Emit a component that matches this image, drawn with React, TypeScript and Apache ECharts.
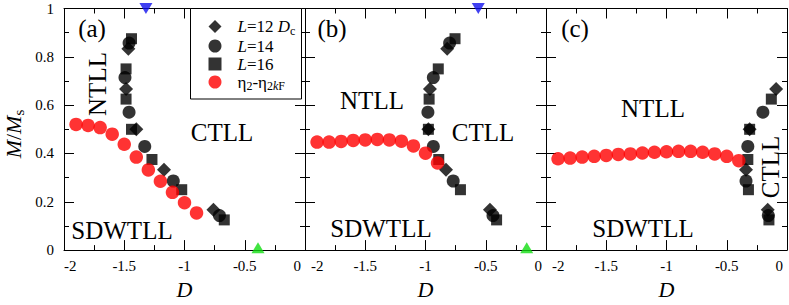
import React, { useEffect, useRef } from 'react';
import * as echarts from 'echarts';

const FONT = '"Liberation Serif", "Times New Roman", serif';

// ---- Panel (a) ----
const aL12 = [[-1.466, 0.833], [-1.485, 0.667], [-1.4, 0.5], [-1.17, 0.333], [-0.76, 0.167]];
const aL14 = [[-1.46, 0.857], [-1.494, 0.714], [-1.46, 0.571], [-1.33, 0.429], [-1.093, 0.286], [-0.71, 0.143]];
const aL16 = [[-1.44, 0.875], [-1.485, 0.75], [-1.485, 0.625], [-1.44, 0.5], [-1.27, 0.375], [-1.023, 0.25], [-0.67, 0.125]];
const aRedD = [-1.9, -1.8, -1.7, -1.6, -1.5, -1.4, -1.3, -1.2, -1.1, -1.0, -0.9];
const aRedM = [0.52, 0.516, 0.507, 0.48, 0.438, 0.385, 0.332, 0.285, 0.239, 0.196, 0.154];
const aBlue = [[-1.32, 1.0]];
const aGreen = [[-0.39, 0.01]];

// ---- Panel (b) ----
const bL12 = [[-0.82, 0.833], [-0.963, 0.667], [-0.976, 0.5], [-0.83, 0.333], [-0.465, 0.167]];
const bL14 = [[-0.8, 0.857], [-0.935, 0.714], [-0.98, 0.571], [-0.935, 0.429], [-0.77, 0.286], [-0.44, 0.143]];
const bL16 = [[-0.755, 0.875], [-0.894, 0.75], [-0.97, 0.625], [-0.976, 0.5], [-0.89, 0.375], [-0.71, 0.25], [-0.41, 0.125]];
const bRedD = [-1.9, -1.8, -1.7, -1.6, -1.5, -1.4, -1.3, -1.2, -1.1, -1.0, -0.9];
const bRedM = [0.447, 0.447, 0.45, 0.454, 0.456, 0.458, 0.456, 0.451, 0.431, 0.401, 0.361];
const bBlue = [[-0.562, 1.0]];
const bGreen = [[-0.16, 0.01]];

// ---- Panel (c) ----
const cL12 = [[-0.09, 0.667], [-0.31, 0.5], [-0.34, 0.333], [-0.16, 0.167]];
const cL14 = [[-0.2, 0.571], [-0.325, 0.429], [-0.34, 0.286], [-0.155, 0.143]];
const cL16 = [[-0.13, 0.625], [-0.31, 0.5], [-0.325, 0.375], [-0.32, 0.25], [-0.15, 0.125]];
const cRedD = [-1.9, -1.8, -1.7, -1.6, -1.5, -1.4, -1.3, -1.2, -1.1, -1.0, -0.9, -0.8, -0.7, -0.6, -0.5, -0.4];
const cRedM = [0.378, 0.381, 0.385, 0.388, 0.392, 0.396, 0.398, 0.402, 0.405, 0.407, 0.409, 0.409, 0.405, 0.398, 0.388, 0.37];

const legendNames = ['L12', 'L14', 'L16', 'eta'];
const panelTags = ['(a)', '(b)', '(c)'];

const zip = (xs: number[], ys: number[]) => xs.map((x, i) => [x, ys[i]]);

const panels = [
  { L12: aL12, L14: aL14, L16: aL16, red: zip(aRedD, aRedM), blue: aBlue, green: aGreen },
  { L12: bL12, L14: bL14, L16: bL16, red: zip(bRedD, bRedM), blue: bBlue, green: bGreen },
  { L12: cL12, L14: cL14, L16: cL16, red: zip(cRedD, cRedM), blue: [], green: [] },
];

const gridLefts = [64, 305, 546];
const GW = 241;
const GT = 8.5;
const GH = 252.5;

const axisLine = { onZero: false, lineStyle: { color: '#000', width: 1 } };
const axisTick = { inside: true, length: 10, lineStyle: { color: '#000', width: 1 } };
const minorTick = { show: true, splitNumber: 2, length: 5, lineStyle: { color: '#000', width: 1 } };

const lab = { fontFamily: FONT, fontSize: 15, color: '#000' };

function buildOption() {
  const grid = gridLefts.map((l) => ({ left: l, top: GT, width: GW, height: GH }));
  const xAxis: any[] = [];
  const yAxis: any[] = [];
  const series: any[] = [];
  gridLefts.forEach((_, gi) => {
    xAxis.push({
      type: 'value', gridIndex: gi, position: 'bottom', min: -2, max: 0, interval: 0.5,
      axisLine, axisTick, minorTick, splitLine: { show: false }, minorSplitLine: { show: false },
      axisLabel: {
        ...lab, margin: 8,
        alignMinLabel: 'left', alignMaxLabel: 'right',
        formatter: (v: number) => {
          const s = String(+v.toFixed(2));
          if (v <= -2 + 1e-9) return gi === 0 ? '{n|' + s + '}' : '{mn|' + s + '}';
          if (v >= -1e-9) return '{mx|' + s + '}';
          return '{n|' + s + '}';
        },
        rich: {
          n: { ...lab },
          mn: { ...lab, padding: [0, 0, 0, 6] },
          mx: { ...lab, padding: [0, 4, 0, 0] },
        },
      },
      name: 'D', nameLocation: 'middle', nameGap: 19,
      nameTextStyle: { color: '#000', fontFamily: FONT, fontSize: 22, fontStyle: 'italic' },
    });
    xAxis.push({
      type: 'value', gridIndex: gi, position: 'top', min: -2, max: 0, interval: 0.5,
      axisLine, axisTick, minorTick, splitLine: { show: false }, axisLabel: { show: false },
    });
    yAxis.push({
      type: 'value', gridIndex: gi, position: 'left', min: 0, max: 1, interval: 0.2,
      axisLine, axisTick, minorTick, splitLine: { show: false },
      axisLabel: {
        show: gi === 0, ...lab, margin: 10,
        formatter: (v: number) => '{n|' + String(+v.toFixed(1)) + '}',
        rich: { n: { ...lab } },
      },
    });
    yAxis.push({
      type: 'value', gridIndex: gi, position: 'right', min: 0, max: 1, interval: 0.2,
      axisLine, axisTick, minorTick, splitLine: { show: false }, axisLabel: { show: false },
    });
    const p = panels[gi];
    const base = { type: 'scatter', xAxisIndex: 2 * gi, yAxisIndex: 2 * gi, clip: false };
    series.push({ ...base, name: 'L12', symbol: 'diamond', symbolSize: 14, itemStyle: { color: '#000' }, data: p.L12 });
    series.push({ ...base, name: 'L14', symbol: 'circle', symbolSize: 13, itemStyle: { color: '#000' }, data: p.L14 });
    series.push({ ...base, name: 'L16', symbol: 'rect', symbolSize: 11, itemStyle: { color: '#000' }, data: p.L16 });
    series.push({ ...base, name: 'eta', symbol: 'circle', symbolSize: 13.5, itemStyle: { color: '#ff0000' }, data: p.red });
    if (p.blue.length) series.push({ ...base, name: 'Dc-blue', symbol: 'triangle', symbolRotate: 180, symbolSize: [13, 11], itemStyle: { color: '#1010ee' }, data: p.blue });
    if (p.green.length) series.push({ ...base, name: 'Dc-green', symbol: 'triangle', symbolSize: [13, 11], itemStyle: { color: '#11dd11' }, data: p.green });
  });

  const big = { fontFamily: FONT, fontSize: 25, fill: '#000', align: 'center', verticalAlign: 'middle' };
  const txt = (text: string, x: number, y: number, rot = 0) => ({
    type: 'text', x, y, rotation: rot, z: 10, style: { ...big, text },
  });

  const graphic: any[] = [
    { type: 'rect', z: 3, shape: { x: 190.5, y: 8.5, width: 111, height: 90.5 }, style: { fill: '#fff', stroke: '#000', lineWidth: 1 } },
    txt(panelTags[0], 92, 28), txt(panelTags[1], 332, 28), txt(panelTags[2], 575, 28),
    txt('NTLL', 97, 84, Math.PI / 2), txt('CTLL', 222, 132), txt('SDWTLL', 122, 230),
    txt('NTLL', 372, 100), txt('CTLL', 483, 132), txt('SDWTLL', 381, 228),
    txt('NTLL', 653, 108), txt('SDWTLL', 643, 228), txt('CTLL', 770, 167, Math.PI / 2),
    {
      type: 'text', x: 13, y: 134, rotation: Math.PI / 2, z: 10,
      style: {
        text: '{i|M}{t|/}{i|M}{s|s}', align: 'center', verticalAlign: 'middle',
        rich: {
          i: { fontFamily: FONT, fontSize: 22, fontStyle: 'italic', fill: '#000', lineHeight: 26 },
          t: { fontFamily: FONT, fontSize: 22, fill: '#000', lineHeight: 26 },
          s: { fontFamily: FONT, fontSize: 15, fill: '#000', lineHeight: 6, verticalAlign: 'bottom' },
        },
      },
    },
  ];

  const legendText: Record<string, string> = {
    L12: '{i0|L}{t|=12 }{i|D}{s|c}',
    L14: '{i0|L}{t|=14}',
    L16: '{i0|L}{t|=16}',
    eta: '{t0|η}{s|2}{t|-η}{s|2}{si|k}{s|F}',
  };

  const li = { fontFamily: FONT, fontSize: 17, fontStyle: 'italic', color: '#000', lineHeight: 20 };
  const lt = { fontFamily: FONT, fontSize: 17, color: '#000', lineHeight: 20 };

  return {
    animation: false,
    backgroundColor: '#fff',
    grid,
    xAxis,
    yAxis,
    series,
    graphic,
    legend: {
      data: legendNames,
      orient: 'vertical',
      left: 203.5,
      top: 13,
      itemWidth: 13,
      itemHeight: 13,
      itemGap: 1,
      z: 5,
      formatter: (n: string) => legendText[n],
      textStyle: {
        fontFamily: FONT,
        rich: {
          i0: { ...li, padding: [0, 0, 0, 11] },
          t0: { ...lt, padding: [0, 0, 0, 11] },
          i: li,
          t: lt,
          s: { fontFamily: FONT, fontSize: 12, color: '#000', lineHeight: 4, verticalAlign: 'bottom' },
          si: { fontFamily: FONT, fontSize: 12, fontStyle: 'italic', color: '#000', lineHeight: 4, verticalAlign: 'bottom' },
        },
      },
    },
  };
}

export default function App() {
  const ref = useRef<HTMLDivElement>(null);
  useEffect(() => {
    document.body.style.margin = '0';
    const chart = echarts.init(ref.current!, null, { renderer: 'svg' });
    chart.setOption(buildOption() as any);
    return () => chart.dispose();
  }, []);
  return <div ref={ref} style={{ width: 789, height: 305 }} />;
}
